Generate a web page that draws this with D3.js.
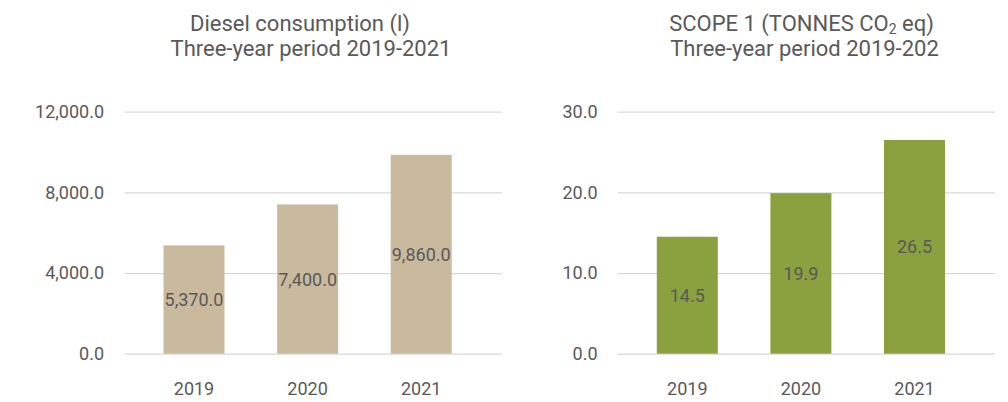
<!DOCTYPE html>
<html>
<head>
<meta charset="utf-8">
<script src="https://cdn.jsdelivr.net/npm/d3@7"></script>
<style>
  html, body { margin: 0; padding: 0; background: #ffffff; }
  svg { display: block; font-family: Roboto, "Noto Sans", sans-serif; }
</style>
</head>
<body>
<svg id="chart" width="1008" height="402"></svg>
<script>
// Years shown on both charts
const years = ["2019", "2020", "2021"];

// Diesel consumption in litres
const dieselLitres = [5370, 7400, 9860];
const dieselTicks = [0, 4000, 8000, 12000];

// Scope 1 emissions in tonnes CO2 eq
const scope1Tonnes = [14.5, 19.9, 26.5];
const scope1Ticks = [0, 10, 20, 30];

const svg = d3.select("#chart");
const textColor = "#595959";
const fmt = d3.format(",.1f");

function barPanel(opts) {
  const g = svg.append("g");
  const y = d3.scaleLinear().domain(opts.domain).range([353.7, 111.7]);
  const x = d3.scaleBand().domain(years).range(opts.bandRange)
    .paddingInner(0.463).paddingOuter(0.2315);

  // value axis with gridlines across the plot
  const yAxis = d3.axisLeft(y).tickValues(opts.ticks)
    .tickFormat(fmt)
    .tickSize(-(opts.gridRange[1] - opts.gridRange[0]))
    .tickPadding(opts.gridRange[0] - opts.labelRight);
  const ya = g.append("g")
    .attr("transform", `translate(${opts.gridRange[0]},0)`)
    .call(yAxis);
  ya.select(".domain").remove();
  ya.selectAll("line").attr("stroke", "#d9d9d9").attr("stroke-width", 1.3);
  ya.selectAll("text")
    .attr("fill", textColor)
    .attr("font-size", 18)
    .attr("font-family", "Roboto, sans-serif");

  // bars
  g.append("g").selectAll("rect")
    .data(opts.values)
    .join("rect")
    .attr("x", (d, i) => x(years[i]))
    .attr("width", x.bandwidth())
    .attr("y", d => y(d))
    .attr("height", d => y(0) - y(d))
    .attr("fill", opts.color);

  // value labels in the middle of each bar
  g.append("g").selectAll("text")
    .data(opts.values)
    .join("text")
    .attr("x", (d, i) => x(years[i]) + x.bandwidth() / 2)
    .attr("y", d => y(d / 2))
    .attr("dy", "0.36em")
    .attr("text-anchor", "middle")
    .attr("fill", textColor)
    .attr("font-size", 18)
    .text(d => fmt(d));

  // category axis
  const xa = g.append("g")
    .attr("transform", `translate(0,${y(0)})`)
    .call(d3.axisBottom(x).tickSize(0).tickPadding(0));
  xa.select(".domain").remove();
  xa.selectAll("text")
    .attr("y", 41.5)
    .attr("dy", 0)
    .attr("fill", textColor)
    .attr("font-size", 18)
    .attr("font-family", "Roboto, sans-serif");

  // two-line title
  const t = g.append("g")
    .attr("fill", textColor)
    .attr("font-size", 22)
    .attr("text-anchor", "middle");
  opts.title(t);
}

barPanel({
  domain: [0, 12000],
  ticks: dieselTicks,
  values: dieselLitres,
  color: "#c9b99d",
  gridRange: [124.7, 502],
  bandRange: [137.2, 478],
  labelRight: 104,
  title: t => {
    t.append("text").attr("x", 300).attr("y", 31).text("Diesel consumption (l)");
    t.append("text").attr("x", 311).attr("y", 55.5).text("Three-year period 2019-2021");
  }
});

barPanel({
  domain: [0, 30],
  ticks: scope1Ticks,
  values: scope1Tonnes,
  color: "#8ba03e",
  gridRange: [617.7, 995],
  bandRange: [630.5, 971.3],
  labelRight: 597.5,
  title: t => {
    const l1 = t.append("text").attr("x", 801.5).attr("y", 31);
    l1.append("tspan").text("SCOPE 1 (TONNES CO");
    l1.append("tspan").attr("font-size", 14).attr("dy", 2.5).text("2");
    l1.append("tspan").attr("dy", -2.5).text(" eq)");
    t.append("text").attr("x", 804.5).attr("y", 55.5).text("Three-year period 2019-202");
  }
});
</script>
</body>
</html>
